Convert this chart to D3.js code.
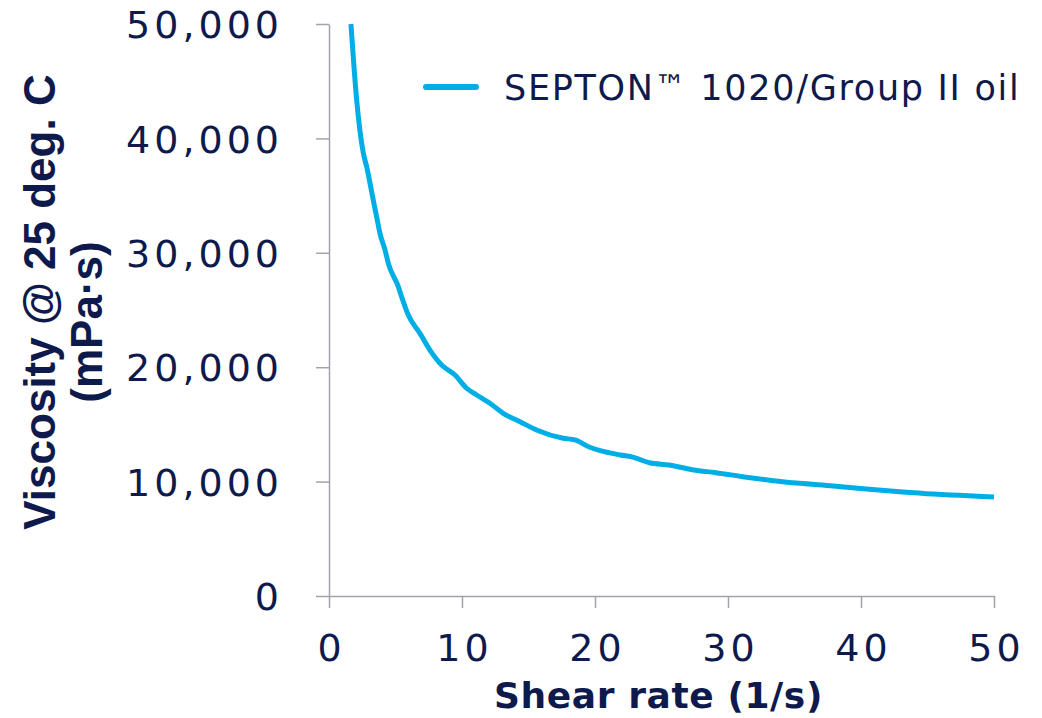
<!DOCTYPE html>
<html>
<head>
<meta charset="utf-8">
<script src="https://cdn.jsdelivr.net/npm/d3@7"></script>
<style>
  html, body { margin: 0; padding: 0; background: #fff; }
  #chart { width: 1042px; height: 718px; }
</style>
</head>
<body>
<div id="chart"></div>
<script>
// data
const seriesName = ['SEPTON', '™', ' 1020/Group II oil'];
const shearRate = [1.65, 2.08, 2.58, 2.83, 3.33, 3.58, 3.83, 4.21, 4.46, 5.21, 5.46, 5.96, 6.84, 7.59, 8.47,
                   9.47, 10.35, 11.1, 12.1, 13.1, 14.36, 15.6, 17.6, 18.5, 19.6, 20.4, 21.9, 22.9, 24.1,
                   25.6, 27.4, 29.1, 31.1, 33.4, 35.4, 37.9, 40.4, 42.9, 45.4, 47.4, 50.0];
const viscosity = [50000, 43360, 38720, 37530, 34600, 33160, 31700, 30250, 29080, 27040, 26160, 24560, 22960, 21500, 20190,
                   19320, 18160, 17570, 16850, 15970, 15240, 14510, 13790, 13640, 13000, 12700, 12330, 12120, 11650,
                   11450, 11010, 10780, 10430, 10080, 9850, 9620, 9350, 9120, 8920, 8800, 8650];
const xTicks = [0, 10, 20, 30, 40, 50];
const yTicks = [0, 10000, 20000, 30000, 40000, 50000];
const xTitle = 'Shear rate (1/s)';
const yTitle = ['Viscosity @ 25 deg. C', '(mPa·s)'];

const chart = {};

chart.create = function(config){
  chart.config = config;
  this.config.width_svg = 1042;
  this.config.height_svg = 718;
  this.config.plot = {left: 329, right: 994, top: 24, bottom: 596};
  this.config.colorRule = {
    line: '#00aee6',
    text: '#0e1a4c',
    axis: '#a3a3ab'
  };
  this.config.svg = d3.select(`#${this.config.target}`)
                      .append('svg')
                      .attr('width', this.config.width_svg)
                      .attr('height', this.config.height_svg);
  this.update();
}

chart.update = function(){
  let plot = this.config.plot,
      colorRule = this.config.colorRule,
      svg = this.config.svg.append('g');
  let data = shearRate.map((x, i) => [x, viscosity[i]]);
  let tickFont = 'DejaVu Sans', tickSpacing = 4;

  let xScale = d3.scaleLinear()
                .domain([0, 50])
                .range([plot.left, plot.right]);
  let yScale = d3.scaleLinear()
                .domain([0, 50000])
                .range([plot.bottom, plot.top]);

  let xAxis = g => g.attr('transform', `translate(0, ${plot.bottom})`)
                  .call(d3.axisBottom(xScale).tickValues(xTicks).tickSize(12).tickSizeOuter(0))
                  .call(g => g.select('.domain').attr('stroke', colorRule.axis).attr('stroke-width', 1.5))
                  .call(g => g.selectAll('.tick line').attr('stroke', colorRule.axis).attr('stroke-width', 1.5))
                  .call(g => g.selectAll('.tick text')
                              .attr('y', 65)
                              .attr('dy', 0)
                              .attr('dx', tickSpacing / 2)
                              .attr('fill', colorRule.text)
                              .attr('font-family', tickFont)
                              .attr('font-size', 38)
                              .attr('letter-spacing', tickSpacing));
  let yAxis = g => g.attr('transform', `translate(${plot.left}, 0)`)
                  .call(d3.axisLeft(yScale).tickValues(yTicks).tickSize(13).tickSizeOuter(0).tickFormat(d3.format(',')))
                  .call(g => g.select('.domain').attr('stroke', colorRule.axis).attr('stroke-width', 1.5))
                  .call(g => g.selectAll('.tick line').attr('stroke', colorRule.axis).attr('stroke-width', 1.5))
                  .call(g => g.selectAll('.tick text')
                              .attr('x', -50 + tickSpacing)
                              .attr('dy', '0.36em')
                              .attr('fill', colorRule.text)
                              .attr('font-family', tickFont)
                              .attr('font-size', 38)
                              .attr('letter-spacing', tickSpacing));

  svg.append('g').call(xAxis);
  svg.append('g').call(yAxis);

  let line = d3.line()
              .x(d => xScale(d[0]))
              .y(d => yScale(d[1]))
              .curve(d3.curveMonotoneX);

  svg.append('path')
    .datum(data)
    .attr('fill', 'none')
    .attr('stroke', colorRule.line)
    .attr('stroke-width', 5)
    .attr('stroke-linejoin', 'round')
    .attr('stroke-linecap', 'butt')
    .attr('d', line);

  // 图例
  let g_legend = svg.append('g').attr('transform', 'translate(426, 87)');
  g_legend.append('line')
          .attr('x1', 0).attr('x2', 50)
          .attr('stroke', colorRule.line)
          .attr('stroke-width', 6)
          .attr('stroke-linecap', 'round');
  let legendText = g_legend.append('text')
          .attr('x', 78)
          .attr('y', 13)
          .attr('fill', colorRule.text)
          .attr('font-family', 'DejaVu Sans')
          .attr('font-size', 35)
          .attr('letter-spacing', 1.7);
  legendText.selectAll('tspan')
            .data(seriesName)
            .enter().append('tspan')
                    .attr('font-size', (d, i) => i === 1 ? 31 : null)
                    .attr('dy', (d, i) => i === 1 ? -3 : (i === 2 ? 3 : 0))
                    .text(d => d);

  // 坐标轴标题
  svg.append('text')
    .attr('x', (plot.left + plot.right) / 2 - 3)
    .attr('y', 708)
    .attr('text-anchor', 'middle')
    .attr('fill', colorRule.text)
    .attr('font-family', 'DejaVu Sans')
    .attr('font-weight', 'bold')
    .attr('font-size', 36)
    .attr('letter-spacing', 0.6)
    .text(xTitle);

  let titleLines = [{x: 55, y: 302}, {x: 102, y: 322}];
  svg.selectAll('.ytitle')
    .data(yTitle)
    .enter().append('text')
            .attr('class', 'ytitle')
            .attr('transform', (d, i) => `translate(${titleLines[i].x}, ${titleLines[i].y}) rotate(-90)`)
            .attr('text-anchor', 'middle')
            .attr('fill', colorRule.text)
            .attr('font-family', 'Liberation Sans')
            .attr('font-weight', 'bold')
            .attr('font-size', 44)
            .text(d => d);
}

chart.create({target: 'chart'});
</script>
</body>
</html>
